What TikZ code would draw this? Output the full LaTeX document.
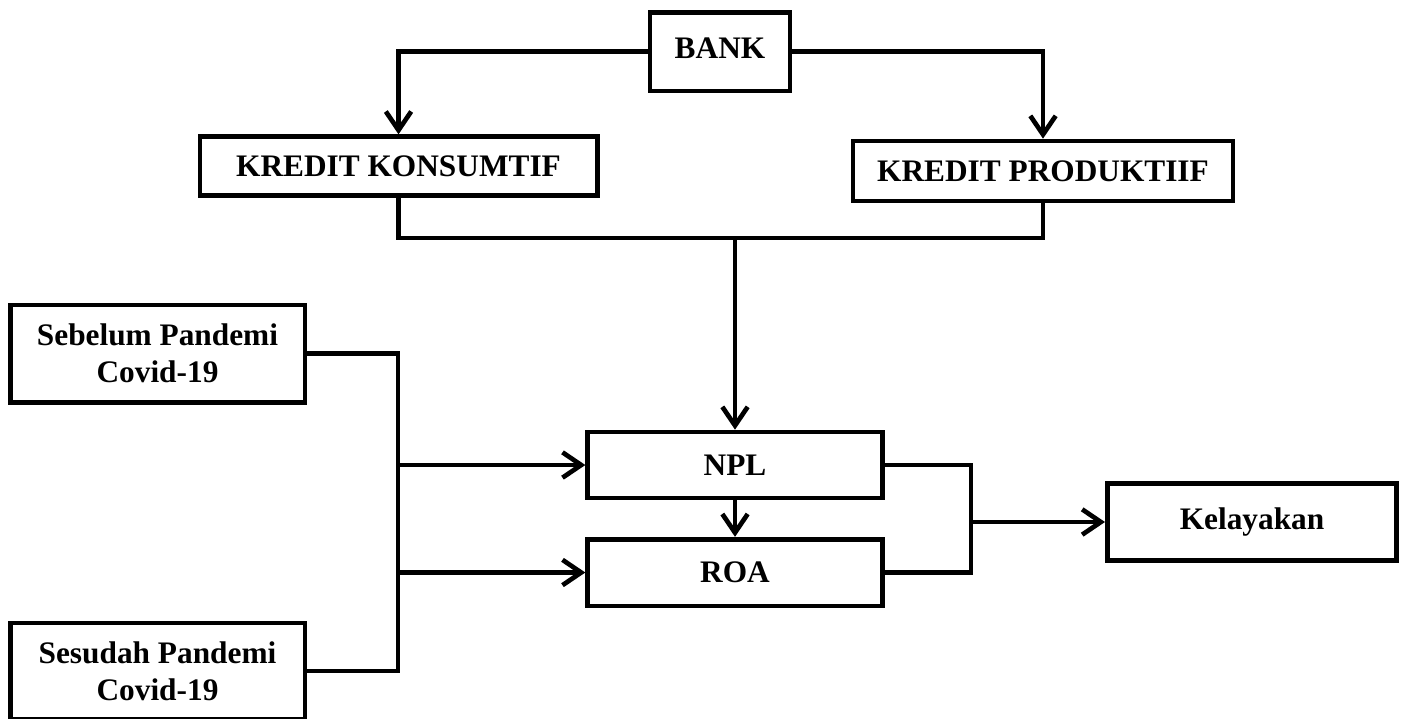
\documentclass[tikz,border=0pt]{standalone}
\usepackage{fontspec}
\setmainfont{Liberation Serif}
\usetikzlibrary{arrows.meta}

\tikzset{every picture/.style={line width=3.5pt}}
\tikzset{box/.style={draw, rectangle, inner sep=0pt, align=center, font=\fontsize{23.5}{27.5}\selectfont\bfseries},
	arr/.style={-{Straight Barb[length=14pt,width=19pt]}}}

\begin{document}
\begin{tikzpicture}[x=0.75pt,y=0.75pt,yscale=-1,xscale=1]
	\useasboundingbox (0,0) rectangle (1405,718);

	% Boxes
	\node[box, minimum width=105pt, minimum height=59pt] (bank) at (720,51.5) {\raisebox{4.5pt}{BANK}};
	\node[box, minimum width=298pt, minimum height=44pt] (konsumtif) at (398.5,166) {KREDIT KONSUMTIF};
	\node[box, minimum width=285pt, minimum height=45pt] (produktif) at (1043,171) {KREDIT PRODUKTIIF};
	\node[box, minimum width=221pt, minimum height=49.5pt] (npl) at (735,465) {NPL};
	\node[box, minimum width=221pt, minimum height=50pt] (roa) at (735,572.5) {ROA};
	\node[box, minimum width=221pt, minimum height=73pt] (sebelum) at (157.5,353.5) {Sebelum Pandemi\\Covid-19};
	\node[box, minimum width=221pt, minimum height=72pt] (sesudah) at (157.5,671) {Sesudah Pandemi\\Covid-19};
	\node[box, minimum width=217pt, minimum height=58pt] (kelayakan) at (1252,522) {\raisebox{2.5pt}{Kelayakan}};

	% Bus points
	\coordinate (join) at (735,238);
	\coordinate (lbus) at (398,0);
	\coordinate (rbus) at (971,0);

	% BANK to kredit
	\draw[arr] (bank.west) -| (konsumtif.north);
	\draw[arr] (bank.east) -| (produktif.north);
	% kredit to NPL
	\draw (konsumtif.south) |- (join) -| (produktif.south);
	\draw[arr] (join) -- (npl.north);
	\draw[arr] (npl.south) -- (roa.north);
	% pandemi to NPL and ROA
	\draw (sebelum.east) -- (sebelum.east -| lbus) -- (sesudah.east -| lbus) -- (sesudah.east);
	\draw[arr] (npl.west -| lbus) -- (npl.west);
	\draw[arr] (roa.west -| lbus) -- (roa.west);
	% NPL and ROA to Kelayakan
	\draw (npl.east) -- (npl.east -| rbus) -- (roa.east -| rbus) -- (roa.east);
	\draw[arr] (kelayakan.west -| rbus) -- (kelayakan.west);

\end{tikzpicture}
\end{document}
